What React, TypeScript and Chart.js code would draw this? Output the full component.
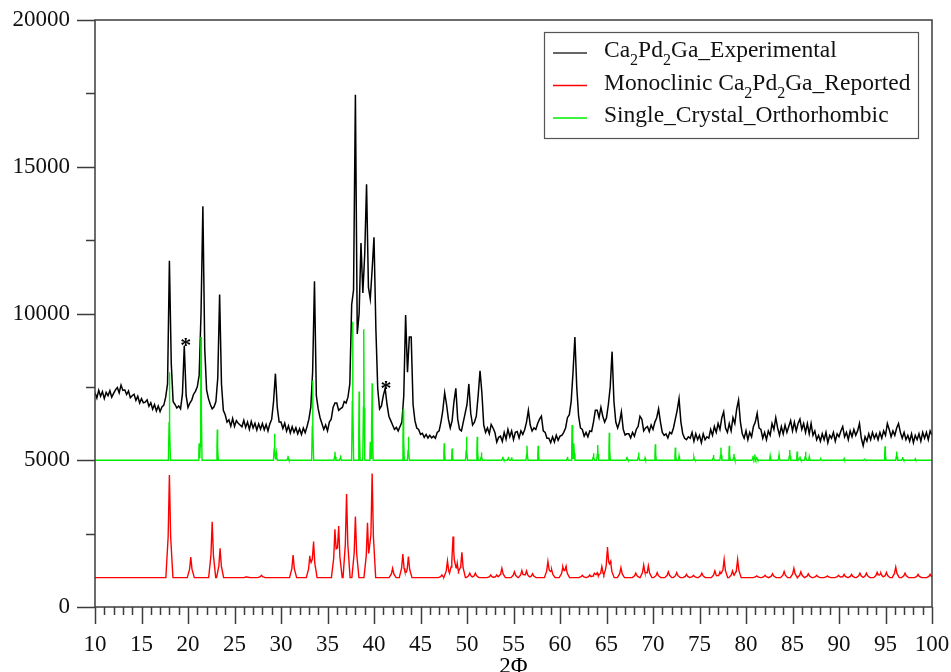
import React, { useEffect, useRef } from "react";
import { Chart, registerables } from "chart.js";

Chart.register(...registerables);

const SERIF = '"Liberation Serif", "Times New Roman", Times, serif';

// Axis ranges and tick spacing
const xRange = [10, 100];
const yRange = [0, 20000];
const xMajorStep = 5;
const xMinorStep = 1;
const yMajorStep = 5000;
const yMinorStep = 2500;

// Measured pattern: counts sampled every 0.2° of 2Φ, from 10° to 100°
const expStart = 10;
const expStep = 0.2;
const expIntensity = [
  // 10.0 – 11.8
  7300, 7120, 7380, 7180, 7340, 7100, 7310, 7200, 7370, 7150,
  // 12.0 – 13.8
  7280, 7400, 7480, 7300, 7560, 7380, 7400, 7240, 7360, 7130,
  // 14.0 – 15.8
  7200, 7250, 7040, 7180, 6950, 7100, 6960, 6980, 7060, 6840,
  // 16.0 – 17.8
  6960, 6740, 6900, 6680, 6850, 6660, 6820, 6880, 7150, 7600,
  // 18.0 – 19.8
  11800, 8300, 7000, 6900, 6780, 6850, 6750, 7250, 8900, 7200,
  // 20.0 – 21.8
  6800, 6950, 7050, 7250, 7350, 7500, 7900, 10000, 13650, 8800,
  // 22.0 – 23.8
  7400, 7100, 6900, 6750, 6820, 7000, 7800, 10650, 7600, 6700,
  // 24.0 – 25.8
  6550, 6300, 6380, 6160, 6420, 6150, 6350, 6260, 6200, 6140,
  // 26.0 – 27.8
  6360, 6120, 6300, 6050, 6320, 6100, 6260, 6030, 6240, 6060,
  // 28.0 – 29.8
  6250, 6040, 6220, 6000, 6240, 6400, 7000, 7950, 6800, 6300,
  // 30.0 – 31.8
  6300, 6080, 6260, 5990, 6170, 5930, 6140, 5950, 6110, 5900,
  // 32.0 – 33.8
  6070, 5880, 6100, 5940, 6150, 6400, 6800, 8000, 11100, 7200,
  // 34.0 – 35.8
  6750, 6450, 6250, 6050, 6200, 6000, 6300, 6400, 6800, 6950,
  // 36.0 – 37.8
  6950, 6700, 6760, 6800, 7000, 6950, 7150, 7600, 10300, 10800,
  // 38.0 – 39.8
  17450, 9300, 10000, 12400, 10700, 12000, 14400, 10900, 10500, 11500,
  // 40.0 – 41.8
  12600, 9500, 7450, 6750, 6850, 7200, 7450, 6900, 6500, 6350,
  // 42.0 – 43.8
  6200, 6050, 6120, 6000, 6150, 6300, 7200, 9950, 8000, 9200,
  // 44.0 – 45.8
  9200, 6900, 6350, 6100, 6050, 5880, 5920, 5780, 5880, 5760,
  // 46.0 – 47.8
  5850, 5760, 5820, 5750, 5950, 6000, 6300, 6700, 7300, 6900,
  // 48.0 – 49.8
  6400, 6100, 6350, 7000, 7450, 6400, 6050, 6000, 6300, 6600,
  // 50.0 – 51.8
  6900, 7600, 6600, 6200, 6300, 6500, 7200, 8050, 7300, 6200,
  // 52.0 – 53.8
  5950, 6100, 5900, 6220, 6100, 5950, 5620, 5780, 5820, 5640,
  // 54.0 – 55.8
  5950, 5720, 6050, 5800, 6000, 5700, 5950, 5980, 5760, 6000,
  // 56.0 – 57.8
  5880, 6040, 6300, 6700, 6200, 6000, 6100, 6050, 6250, 6400,
  // 58.0 – 59.8
  6500, 6000, 5950, 5750, 5750, 5600, 5800, 5620, 5850, 5680,
  // 60.0 – 61.8
  5820, 5850, 5950, 6100, 6450, 6550, 7000, 8000, 9200, 7500,
  // 62.0 – 63.8
  6500, 6100, 6050, 5820, 5950, 5800, 6000, 5980, 6300, 6700,
  // 64.0 – 65.8
  6700, 6450, 6800, 6500, 6300, 6450, 6900, 7500, 8700, 7000,
  // 66.0 – 67.8
  6300, 6100, 6300, 6650, 6050, 5860, 5900, 5900, 5760, 5950,
  // 68.0 – 69.8
  5820, 6050, 6150, 6500, 6400, 6000, 6100, 6150, 5980, 6200,
  // 70.0 – 71.8
  6050, 6300, 6450, 6750, 6300, 5950, 5850, 5900, 5760, 5950,
  // 72.0 – 73.8
  5900, 6100, 6400, 6700, 7100, 6300, 5900, 5750, 5700, 5800,
  // 74.0 – 75.8
  5750, 5950, 5650, 5900, 5700, 5850, 5600, 5900, 5700, 5800,
  // 76.0 – 77.8
  5750, 6050, 5850, 6150, 5950, 6250, 6050, 6450, 6650, 6100,
  // 78.0 – 79.8
  5950, 6250, 6000, 6450, 6250, 6750, 7050, 6300, 5900, 5750,
  // 80.0 – 81.8
  6000, 5700, 5950, 5800, 6150, 6300, 6600, 6100, 6050, 5750,
  // 82.0 – 83.8
  5950, 5700, 6000, 5850, 6250, 6050, 6450, 6100, 5850, 6150,
  // 84.0 – 85.8
  5900, 6200, 5950, 6150, 6350, 6000, 6300, 6000, 6250, 6400,
  // 86.0 – 87.8
  6050, 6250, 5950, 6250, 5900, 6250, 5850, 6000, 5700, 5850,
  // 88.0 – 89.8
  5650, 5900, 5700, 5950, 5600, 5850, 5750, 5950, 5650, 5900,
  // 90.0 – 91.8
  5800, 6000, 6150, 5800, 5950, 5700, 6000, 5800, 6050, 5850,
  // 92.0 – 93.8
  6000, 6250, 5750, 5500, 5800, 5650, 5900, 5700, 5950, 5750,
  // 94.0 – 95.8
  5900, 5700, 5950, 5750, 6000, 5850, 6250, 6050, 5800, 6000,
  // 96.0 – 97.8
  5850, 6100, 6250, 5950, 5750, 5950, 5700, 5850, 5650, 5900,
  // 98.0 – 99.8
  5600, 5850, 5700, 5900, 5650, 5950, 5750, 5950, 5700, 6000,
  // 100.0
  5850,
];

// Reported monoclinic reflections (position in 2Φ, height above the 1000 offset)
const monoBaseline = 1000;
const monoPos = [
  18.0, 20.3, 22.6, 23.45, 26.3, 27.9, 31.3, 33.1, 33.5, 35.8, 36.2, 37.05, 38.0,
  39.3, 39.8, 42.0, 43.1, 43.7, 47.3, 47.9, 48.5, 48.95, 49.45, 50.3, 50.9, 52.55,
  53.2, 53.75, 55.1, 55.9, 56.4, 57.05, 58.7, 59.1, 60.3, 60.65, 62.4, 63.2, 63.7,
  64.0, 64.5, 65.1, 65.45, 66.55, 68.15, 69.0, 69.5, 70.45, 71.65, 72.55, 73.6,
  74.35, 75.25, 76.65, 77.2, 77.65, 78.55, 79.1, 81.15, 82.05, 82.85, 84.1, 85.15,
  85.9, 86.7, 87.6, 88.75, 89.95, 90.55, 91.35, 92.25, 92.95, 94.1, 94.5, 95.1,
  96.1, 97.1, 98.5, 99.8,
];
const monoHeight = [
  3500, 700, 1900, 1000, 30, 80, 770, 740, 1230, 1650, 1760, 2850, 2080,
  1870, 3550, 320, 800, 720, 90, 570, 1400, 490, 860, 150, 150, 90,
  90, 320, 200, 240, 230, 130, 550, 270, 350, 370, 80, 90, 130,
  150, 380, 1020, 510, 340, 150, 430, 400, 170, 200, 170, 110,
  80, 150, 230, 200, 620, 230, 620, 60, 80, 130, 210, 320,
  200, 130, 80, 60, 80, 110, 110, 150, 150, 180, 150, 180,
  360, 150, 110, 110,
];
const monoHalfWidth = 0.38;

// Single-crystal orthorhombic reflections (height above the 5000 offset)
const orthoBaseline = 5000;
const orthoPos = [
  18.0, 21.2, 21.4, 23.15, 29.3, 29.5, 30.75, 33.4, 35.8, 36.4, 37.7, 38.4, 38.9,
  39.6, 39.8, 43.15, 43.7, 47.55, 48.4, 49.95, 51.1, 51.55, 53.85, 54.45, 54.8,
  56.45, 57.65, 60.8, 61.3, 61.5, 63.6, 64.05, 65.3, 67.2, 68.45, 69.15, 70.25,
  72.4, 72.8, 74.4, 76.5, 77.3, 78.2, 78.7, 80.75, 80.95, 81.15, 82.6, 83.55,
  84.7, 85.5, 85.8, 86.4, 86.8, 88.05, 90.55, 92.75, 94.95, 96.2, 96.85, 98.2,
];
const orthoHeight = [
  3000, 580, 4200, 1050, 900, 250, 150, 2720, 290, 170, 4720, 2340, 4460,
  630, 2620, 1740, 800, 580, 400, 800, 800, 260, 120, 120, 100,
  490, 490, 120, 1200, 580, 240, 520, 940, 120, 260, 80, 540,
  430, 150, 100, 180, 430, 490, 210, 150, 200, 120, 150, 180,
  350, 300, 130, 290, 120, 40, 60, 60, 480, 300, 110, 50,
];
const orthoHalfWidth = 0.11;

// Impurity reflections flagged with an asterisk
const starPos = [19.75, 41.3];
const starLevel = [9120, 7680];

const seriesNames = [
  "Ca2Pd2Ga_Experimental",
  "Monoclinic Ca2Pd2Ga_Reported",
  "Single_Crystal_Orthorhombic",
];
const seriesColors = ["#000000", "#ff0000", "#00ee00"];
// Legend text pieces; "sub" marks a subscript
const legendTexts: [string, string?][][] = [
  [["Ca"], ["2", "sub"], ["Pd"], ["2", "sub"], ["Ga_Experimental"]],
  [["Monoclinic Ca"], ["2", "sub"], ["Pd"], ["2", "sub"], ["Ga_Reported"]],
  [["Single_Crystal_Orthorhombic"]],
];
const xTitle = "2Φ";

// Shape of one reflection: relative distance from centre -> fraction of height
function peakShape(d: number): number {
  if (d >= 1) return 0;
  if (d <= 0.35) return 1 - 0.6 * (d / 0.35);
  return (0.4 * (1 - d)) / 0.65;
}

// Stick pattern turned into a line: every breakpoint of every reflection
function buildPattern(pos: number[], height: number[], base: number, hw: number) {
  const xs: number[] = [xRange[0], xRange[1]];
  pos.forEach((p) => {
    [-1, -0.35, 0, 0.35, 1].forEach((k) => xs.push(Math.round((p + k * hw) * 1000) / 1000));
  });
  const uniq = Array.from(new Set(xs))
    .filter((x) => x >= xRange[0] && x <= xRange[1])
    .sort((a, b) => a - b);
  return uniq.map((x) => ({
    x,
    y: base + pos.reduce((s, p, i) => s + height[i] * peakShape(Math.abs(x - p) / hw), 0),
  }));
}

const frameAndLabels = {
  id: "frameAndLabels",
  afterDraw(chart: any) {
    const { ctx, chartArea: ca } = chart;
    const xs = chart.scales.x;
    const ys = chart.scales.y;
    ctx.save();

    // plot frame
    ctx.strokeStyle = "#3c3c3c";
    ctx.lineWidth = 1.5;
    ctx.strokeRect(ca.left, ca.top, ca.right - ca.left, ca.bottom - ca.top);

    // outward tick marks
    ctx.beginPath();
    for (let v = xRange[0]; v <= xRange[1] + 1e-9; v += xMinorStep) {
      const px = Math.round(xs.getPixelForValue(v)) + 0.5;
      const len = Math.abs(v % xMajorStep) < 1e-9 ? 17 : 8;
      ctx.moveTo(px, ca.bottom);
      ctx.lineTo(px, ca.bottom + len);
    }
    for (let v = yRange[0]; v <= yRange[1] + 1e-9; v += yMinorStep) {
      const py = Math.round(ys.getPixelForValue(v)) + 0.5;
      const len = Math.abs(v % yMajorStep) < 1e-9 ? 18 : 9;
      ctx.moveTo(ca.left, py);
      ctx.lineTo(ca.left - len, py);
    }
    ctx.stroke();

    // asterisks
    ctx.fillStyle = "#000";
    ctx.font = `bold 22px ${SERIF}`;
    ctx.textAlign = "center";
    ctx.textBaseline = "alphabetic";
    starPos.forEach((p, i) => {
      ctx.fillText("*", xs.getPixelForValue(p), ys.getPixelForValue(starLevel[i]) + 13);
    });

    // x-axis title
    ctx.font = `23px ${SERIF}`;
    ctx.textBaseline = "alphabetic";
    ctx.fillText(xTitle, (ca.left + ca.right) / 2, ca.bottom + 66);

    // legend
    const bx = ca.right - 388;
    const by = ca.top + 12;
    const bw = 374;
    const bh = 106;
    ctx.fillStyle = "#fff";
    ctx.fillRect(bx, by, bw, bh);
    ctx.strokeStyle = "#555";
    ctx.lineWidth = 1.2;
    ctx.strokeRect(bx + 0.5, by + 0.5, bw, bh);
    ctx.textAlign = "left";
    legendTexts.forEach((parts, i) => {
      const base = by + 25 + i * 32.5;
      ctx.strokeStyle = seriesColors[i] === "#000000" ? "#333" : seriesColors[i];
      ctx.lineWidth = 1.3;
      ctx.beginPath();
      ctx.moveTo(bx + 9, base - 4);
      ctx.lineTo(bx + 43, base - 4);
      ctx.stroke();
      ctx.fillStyle = "#111";
      let cx = bx + 60;
      parts.forEach(([t, kind]) => {
        const sub = kind === "sub";
        ctx.font = sub ? `16px ${SERIF}` : `23.5px ${SERIF}`;
        ctx.fillText(t, cx, sub ? base + 8 : base);
        cx += ctx.measureText(t).width;
      });
    });
    ctx.restore();
  },
};

export default function App() {
  const canvasRef = useRef<HTMLCanvasElement | null>(null);

  useEffect(() => {
    const canvas = canvasRef.current;
    if (!canvas) return;
    const expData = expIntensity.map((y, i) => ({ x: +(expStart + i * expStep).toFixed(2), y }));
    const monoData = buildPattern(monoPos, monoHeight, monoBaseline, monoHalfWidth);
    const orthoData = buildPattern(orthoPos, orthoHeight, orthoBaseline, orthoHalfWidth);
    const tickFont = { family: SERIF, size: 23 };

    const chart = new Chart(canvas, {
      type: "line",
      data: {
        datasets: [
          { label: seriesNames[0], data: expData, borderColor: seriesColors[0], borderWidth: 1.5, order: 1 },
          { label: seriesNames[1], data: monoData, borderColor: seriesColors[1], borderWidth: 1.4, order: 2 },
          { label: seriesNames[2], data: orthoData, borderColor: seriesColors[2], borderWidth: 1.4, order: 0 },
        ],
      },
      options: {
        animation: false,
        responsive: true,
        maintainAspectRatio: false,
        layout: { padding: { top: 20, right: 19, left: 0, bottom: 0 } },
        elements: { point: { radius: 0 }, line: { tension: 0 } },
        plugins: { legend: { display: false }, tooltip: { enabled: false } },
        scales: {
          x: {
            type: "linear",
            min: xRange[0],
            max: xRange[1],
            afterFit: (s: any) => {
              s.height = 65;
              s.paddingLeft = 0;
              s.paddingRight = 0;
            },
            ticks: { stepSize: xMajorStep, padding: 24, font: tickFont, color: "#111", maxRotation: 0, autoSkip: false },
            grid: { display: false, drawTicks: false },
            border: { display: false },
          },
          y: {
            type: "linear",
            min: yRange[0],
            max: yRange[1],
            afterFit: (s: any) => {
              s.width = 95;
              s.paddingTop = 0;
              s.paddingBottom = 0;
            },
            ticks: { stepSize: yMajorStep, padding: 25, font: tickFont, color: "#111", callback: (v: any) => String(v) },
            grid: { display: false, drawTicks: false },
            border: { display: false },
          },
        },
      },
      plugins: [frameAndLabels],
    } as any);
    return () => chart.destroy();
  }, []);

  return (
    <div style={{ position: "fixed", left: 0, top: 0, width: 951, height: 672, background: "#fff" }}>
      <canvas ref={canvasRef} />
    </div>
  );
}
